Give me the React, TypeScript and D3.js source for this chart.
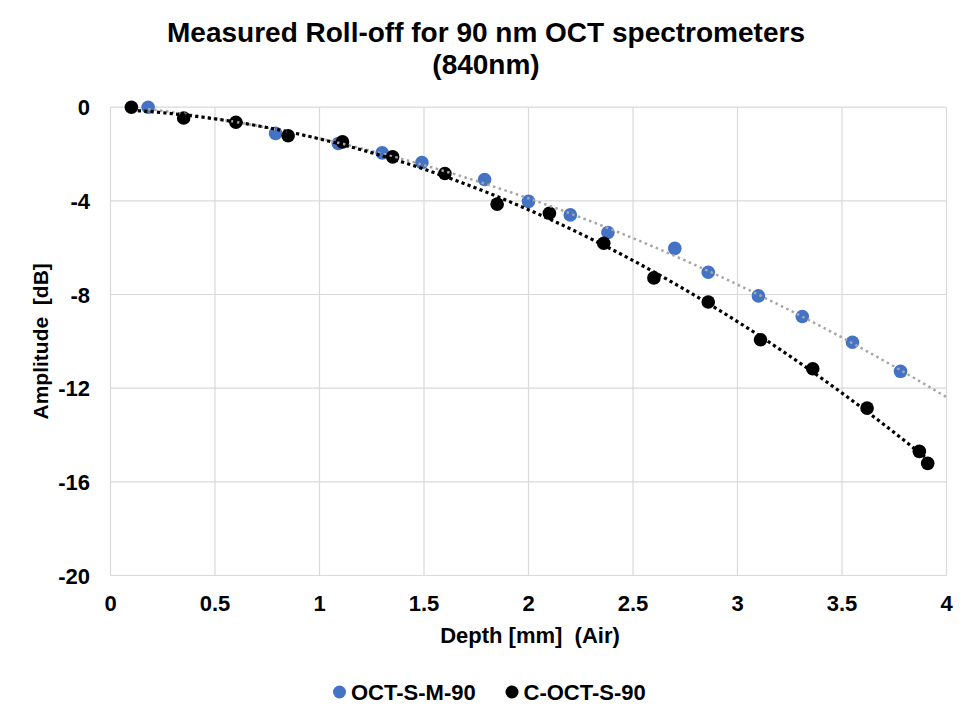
import React from 'react';
import * as d3 from 'd3';

const mDepth = [0.18, 0.79, 1.09, 1.3, 1.49, 1.79, 2.0, 2.2, 2.38, 2.7, 2.86, 3.1, 3.31, 3.55, 3.78];
const mAmp = [0, -1.12, -1.55, -1.95, -2.36, -3.09, -4.02, -4.6, -5.35, -6.03, -7.05, -8.06, -8.94, -10.04, -11.28];

const cDepth = [0.1, 0.35, 0.6, 0.85, 1.11, 1.35, 1.6, 1.85, 2.1, 2.36, 2.6, 2.86, 3.11, 3.36, 3.62, 3.87, 3.91];
const cAmp = [0, -0.46, -0.64, -1.22, -1.48, -2.12, -2.83, -4.14, -4.53, -5.81, -7.29, -8.32, -9.93, -11.17, -12.85, -14.7, -15.21];

const xTicks = [0, 0.5, 1, 1.5, 2, 2.5, 3, 3.5, 4];
const yTicks = [0, -4, -8, -12, -16, -20];

const seriesNames = ['OCT-S-M-90', 'C-OCT-S-90'];

const W = 976;
const H = 723;
const FONT = '"Liberation Sans", Arial, sans-serif';

// quadratic least squares fit (like an Excel order-2 trendline)
function polyfit2(xs: number[], ys: number[]) {
    const n = xs.length;
    let s1 = 0, s2 = 0, s3 = 0, s4 = 0, t0 = 0, t1 = 0, t2 = 0;
    xs.forEach((x, i) => {
        const y = ys[i];
        s1 += x; s2 += x * x; s3 += x ** 3; s4 += x ** 4;
        t0 += y; t1 += x * y; t2 += x * x * y;
    });
    // solve 3x3 system
    const A = [
        [n, s1, s2, t0],
        [s1, s2, s3, t1],
        [s2, s3, s4, t2],
    ];
    for (let c = 0; c < 3; c++) {
        for (let r = c + 1; r < 3; r++) {
            const f = A[r][c] / A[c][c];
            for (let k = c; k < 4; k++) A[r][k] -= f * A[c][k];
        }
    }
    const coef = [0, 0, 0];
    for (let r = 2; r >= 0; r--) {
        let s = A[r][3];
        for (let k = r + 1; k < 3; k++) s -= A[r][k] * coef[k];
        coef[r] = s / A[r][r];
    }
    return (x: number) => coef[0] + coef[1] * x + coef[2] * x * x;
}

const App: React.FC = () => {
    const x = d3.scaleLinear().domain([0, 4]).range([110.5, 946.5]);
    const y = d3.scaleLinear().domain([0, -20]).range([107.2, 575.5]);

    const fitM = polyfit2(mDepth, mAmp);
    const fitC = polyfit2(cDepth, cAmp);

    const line = d3.line<number[]>()
        .x(d => x(d[0]))
        .y(d => y(d[1]));

    const trendM = d3.range(0, 201).map(i => {
        const t = mDepth[0] + (4 - mDepth[0]) * i / 200;
        return [t, fitM(t)];
    });
    const cEnd = cDepth[cDepth.length - 1];
    const trendC = d3.range(0, 201).map(i => {
        const t = cDepth[0] + (cEnd - cDepth[0]) * i / 200;
        return [t, fitC(t)];
    });

    const [x0, x1] = x.range();
    const [y0, y1] = y.range();

    return (
        <svg width={W} height={H} style={{ position: 'absolute', left: 0, top: 0, background: '#fff' }}
            fontFamily={FONT} fontWeight="bold">
            <rect width={W} height={H} fill="#fff" />

            {/* title */}
            <text x={486} y={42} textAnchor="middle" fontSize={28}>
                Measured Roll-off for 90 nm OCT spectrometers
            </text>
            <text x={486} y={74} textAnchor="middle" fontSize={28}>(840nm)</text>

            {/* gridlines */}
            {yTicks.map(t => (
                <line key={'gy' + t} x1={x0} x2={x1} y1={y(t)} y2={y(t)} stroke="#d9d9d9" strokeWidth={1.2} />
            ))}
            {xTicks.map(t => (
                <line key={'gx' + t} x1={x(t)} x2={x(t)} y1={y0} y2={y1} stroke="#d9d9d9" strokeWidth={1.2} />
            ))}

            {/* tick labels */}
            {yTicks.map(t => (
                <text key={'ly' + t} x={90} y={y(t) + 8} textAnchor="end" fontSize={22}>{t}</text>
            ))}
            {xTicks.map(t => (
                <text key={'lx' + t} x={x(t)} y={611} textAnchor="middle" fontSize={22}>{t}</text>
            ))}

            {/* axis titles */}
            <text x={530} y={643} textAnchor="middle" fontSize={22} style={{ whiteSpace: 'pre' }}>
                {'Depth [mm]  (Air)'}
            </text>
            <text transform={`translate(48,${(y0 + y1) / 2}) rotate(-90)`} textAnchor="middle" fontSize={21}
                style={{ whiteSpace: 'pre' }}>
                {'Amplitude  [dB]'}
            </text>

            {/* markers */}
            {mDepth.map((d, i) => (
                <circle key={'m' + i} cx={x(d)} cy={y(mAmp[i])} r={6.8} fill="#4472c4" />
            ))}
            {cDepth.map((d, i) => (
                <circle key={'c' + i} cx={x(d)} cy={y(cAmp[i])} r={6.8} fill="#000" />
            ))}

            {/* trendlines */}
            <path d={line(trendM) || ''} fill="none" stroke="#a6a6a6" strokeWidth={2.5} strokeDasharray="2.5 3.5" />
            <path d={line(trendC) || ''} fill="none" stroke="#000" strokeWidth={3.2} strokeDasharray="3.2 3.2" />

            {/* legend */}
            <circle cx={339.5} cy={692} r={6.5} fill="#4472c4" />
            <text x={351} y={699.5} fontSize={22}>{seriesNames[0]}</text>
            <circle cx={512} cy={692} r={6.5} fill="#000" />
            <text x={523.5} y={699.5} fontSize={22}>{seriesNames[1]}</text>
        </svg>
    );
};

export default App;
